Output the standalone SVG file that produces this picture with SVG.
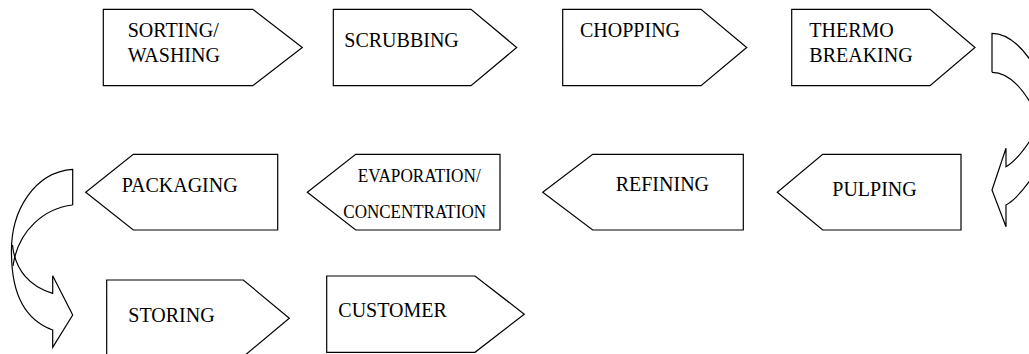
<svg xmlns="http://www.w3.org/2000/svg" width="1029" height="354" viewBox="0 0 1029 354">
<style>
.box{fill:#fff;stroke:#000;stroke-width:1.2;stroke-linejoin:miter}
.arr{fill:none;stroke:#000;stroke-width:1.2;stroke-linejoin:miter}
text{font-family:"Liberation Serif","Times New Roman",serif;font-size:20px;fill:#000}
.sm{font-size:18px}
</style>
<rect width="1029" height="354" fill="#fff"/>
<g id="sorting"><path class="box" d="M103.3,9.3 H252.7 L302.3,47.5 L252.7,85.7 H103.3 Z"/><text x="127.7" y="36.7">SORTING/</text><text x="127.7" y="61.7">WASHING</text></g>
<g id="scrubbing"><path class="box" d="M333.3,9.3 H471 L516.7,47.5 L471,85.7 H333.3 Z"/><text x="344.3" y="46.7">SCRUBBING</text></g>
<g id="chopping"><path class="box" d="M562.7,9.3 H701 L746.7,47.5 L701,85.7 H562.7 Z"/><text x="580" y="36.7">CHOPPING</text></g>
<g id="thermo"><path class="box" d="M791.7,9.3 H930 L975,47.5 L930,85.7 H791.7 Z"/><text x="809.3" y="36.7">THERMO</text><text x="809.3" y="61.7">BREAKING</text></g>
<g id="pulping"><path class="box" d="M961,154.3 H822.7 L777.3,192.2 L822.7,230 H961 Z"/><text x="832.3" y="196">PULPING</text></g>
<g id="refining"><path class="box" d="M743.3,154.3 H592.7 L542.7,192.2 L592.7,230 H743.3 Z"/><text x="615.7" y="191">REFINING</text></g>
<g id="evaporation"><path class="box" d="M500,154.3 H355.7 L307.3,192.2 L355.7,230 H500 Z"/><text class="sm" x="357.7" y="181.7" textLength="123" lengthAdjust="spacingAndGlyphs">EVAPORATION/</text><text class="sm" x="343.3" y="218.3" textLength="142.7" lengthAdjust="spacingAndGlyphs">CONCENTRATION</text></g>
<g id="packaging"><path class="box" d="M277.7,154.3 H133.3 L85.7,192.2 L133.3,230 H277.7 Z"/><text x="121.7" y="191.7">PACKAGING</text></g>
<g id="storing"><path class="box" d="M106.7,280 H243.3 L289.3,318.3 L243.3,356.6 H106.7 Z"/><text x="128.3" y="322">STORING</text></g>
<g id="customer"><path class="box" d="M326.7,276 H475 L524.3,314.2 L475,352.3 H326.7 Z"/><text x="338.3" y="317.3">CUSTOMER</text></g>
<g id="connectors">
<g id="curve-right">
<path class="arr" d="M992,72.3 V33.3 C1012,33.3 1030,55 1045,85"/>
<path class="arr" d="M992,72.3 C1010,72.3 1025,90 1040,120"/>
<path class="arr" d="M1040,125 C1025,150 1015,162 1006,166.7 V148.3 L992,190 L1006,226.7 V205 C1015,200 1025,190 1040,165"/>
</g>
<g id="curve-left">
<path class="arr" d="M72.7,205 V169.3 C35,172 10,210 11.5,255 C12,295 25,320 52.7,330 V347.3 L72.7,315 L52.7,275.7 V293.3 C30,287 15,270 12.5,245"/>
<path class="arr" d="M72.7,205 C45,208 18,230 13,266"/>
</g>
</g>
</svg>
